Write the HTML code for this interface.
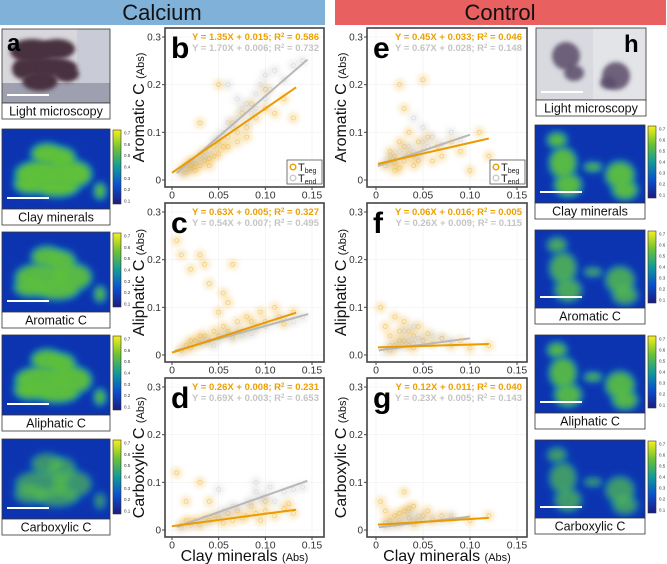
<!DOCTYPE html>
<html><head><meta charset="utf-8"><style>
html,body{margin:0;padding:0;background:#fff;}
svg{display:block;font-family:"Liberation Sans",Arial,sans-serif;}
</style></head><body>
<svg id="fig" width="667" height="564" viewBox="0 0 667 564" xmlns="http://www.w3.org/2000/svg">
<defs>
<filter id="blur3" x="-50%" y="-50%" width="200%" height="200%"><feGaussianBlur stdDeviation="3"/></filter>
<filter id="blur2" x="-50%" y="-50%" width="200%" height="200%"><feGaussianBlur stdDeviation="2"/></filter>
<linearGradient id="cbar" x1="0" y1="1" x2="0" y2="0">
<stop offset="0" stop-color="#1c1a7e"/><stop offset="0.25" stop-color="#0a4fd0"/><stop offset="0.5" stop-color="#129a9a"/><stop offset="0.75" stop-color="#6cc234"/><stop offset="1" stop-color="#f7ef1c"/>
</linearGradient>
</defs>
<rect x="0" y="0" width="325" height="25" fill="#80b1d9"/>
<text x="162" y="20" font-size="22" text-anchor="middle" fill="#111">Calcium</text>
<rect x="335" y="0" width="331" height="25" fill="#e8605f"/>
<text x="500" y="20" font-size="22" text-anchor="middle" fill="#111">Control</text>
<g id="charts"></g>
<g id="images"></g>
</svg>
<script>
// ---------- chart data ----------
const panelLetters = ['b','c','d','e','f','g'];
const yTitles = ['Aromatic C','Aliphatic C','Carboxylic C','Aromatic C','Aliphatic C','Carboxylic C'];
const xTicks = [0,0.05,0.10,0.15];
const xTickLabels = ['0','0.05','0.10','0.15'];
const yTicks = [0,0.1,0.2,0.3];
const yTickLabelsA = ['0','0.1','0.2','0.3'];
const yTickLabelsB = ['0.0','0.1','0.2','0.3'];
const begSlope = [1.35,0.63,0.26,0.45,0.06,0.12];
const begIntercept = [0.015,0.005,0.008,0.033,0.016,0.011];
const begR2 = ['0.586','0.327','0.231','0.046','0.005','0.040'];
const endSlope = [1.70,0.54,0.69,0.67,0.26,0.23];
const endIntercept = [0.006,0.007,0.003,0.028,0.009,0.005];
const endR2 = ['0.732','0.495','0.653','0.148','0.115','0.143'];
const begRange = [[0,0.133],[0,0.133],[0,0.133],[0.002,0.12],[0.002,0.12],[0.002,0.12]];
const endRange = [[0.005,0.145],[0.003,0.146],[0.005,0.145],[0.002,0.1],[0.003,0.1],[0.003,0.1]];
const ptsBegB = [[0.01,0.02],[0.015,0.03],[0.02,0.025],[0.02,0.04],[0.025,0.035],[0.03,0.05],[0.03,0.03],[0.035,0.06],[0.04,0.045],[0.045,0.07],[0.05,0.08],[0.05,0.055],[0.06,0.09],[0.065,0.12],[0.07,0.1],[0.075,0.14],[0.08,0.11],[0.085,0.16],[0.09,0.13],[0.1,0.15],[0.1,0.19],[0.11,0.14],[0.12,0.17],[0.13,0.13],[0.03,0.12],[0.05,0.2],[0.015,0.015],[0.025,0.02],[0.04,0.03],[0.06,0.07],[0.035,0.04],[0.045,0.05],[0.055,0.07],[0.07,0.08],[0.08,0.09],[0.02,0.03]];
const ptsEndB = [[0.01,0.015],[0.02,0.03],[0.025,0.04],[0.03,0.045],[0.04,0.06],[0.045,0.08],[0.05,0.09],[0.055,0.1],[0.06,0.12],[0.065,0.11],[0.07,0.13],[0.075,0.15],[0.08,0.16],[0.085,0.14],[0.09,0.18],[0.095,0.2],[0.1,0.17],[0.1,0.22],[0.105,0.19],[0.11,0.23],[0.12,0.21],[0.13,0.24],[0.14,0.25],[0.06,0.2],[0.015,0.02],[0.035,0.05],[0.08,0.12],[0.09,0.15],[0.07,0.17]];
const ptsBegC = [[0.005,0.24],[0.01,0.21],[0.02,0.18],[0.03,0.21],[0.035,0.19],[0.065,0.19],[0.04,0.15],[0.055,0.13],[0.01,0.01],[0.015,0.02],[0.02,0.015],[0.025,0.03],[0.03,0.025],[0.035,0.04],[0.04,0.03],[0.045,0.05],[0.05,0.04],[0.055,0.06],[0.06,0.05],[0.07,0.07],[0.075,0.05],[0.08,0.08],[0.09,0.06],[0.095,0.09],[0.1,0.07],[0.11,0.1],[0.115,0.08],[0.12,0.065],[0.13,0.09],[0.05,0.09],[0.06,0.11],[0.02,0.03],[0.03,0.04],[0.065,0.04],[0.085,0.07]];
const ptsEndC = [[0.01,0.01],[0.02,0.02],[0.03,0.025],[0.04,0.03],[0.05,0.035],[0.055,0.04],[0.06,0.045],[0.07,0.05],[0.075,0.04],[0.08,0.05],[0.09,0.055],[0.1,0.06],[0.11,0.07],[0.12,0.075],[0.13,0.07],[0.14,0.08],[0.035,0.03],[0.045,0.02],[0.065,0.035],[0.085,0.045]];
const ptsBegD = [[0.01,0.01],[0.02,0.015],[0.025,0.02],[0.03,0.01],[0.035,0.025],[0.04,0.02],[0.045,0.03],[0.05,0.025],[0.06,0.035],[0.065,0.02],[0.07,0.04],[0.08,0.03],[0.085,0.05],[0.09,0.035],[0.1,0.04],[0.11,0.03],[0.12,0.045],[0.13,0.035],[0.005,0.12],[0.03,0.1],[0.015,0.06],[0.04,0.06],[0.1,0.06],[0.125,0.055],[0.055,0.015],[0.075,0.025],[0.095,0.02],[0.015,0.02]];
const ptsEndD = [[0.01,0.005],[0.02,0.01],[0.03,0.015],[0.04,0.02],[0.05,0.03],[0.055,0.04],[0.06,0.035],[0.065,0.05],[0.07,0.045],[0.08,0.055],[0.085,0.06],[0.09,0.08],[0.095,0.065],[0.1,0.07],[0.105,0.09],[0.11,0.06],[0.12,0.08],[0.13,0.085],[0.14,0.09],[0.09,0.1],[0.05,0.085]];
const ptsBegE = [[0.01,0.03],[0.015,0.06],[0.02,0.02],[0.02,0.05],[0.025,0.08],[0.03,0.04],[0.03,0.07],[0.035,0.1],[0.04,0.05],[0.04,0.03],[0.045,0.08],[0.05,0.06],[0.055,0.09],[0.06,0.04],[0.065,0.07],[0.07,0.05],[0.08,0.08],[0.09,0.06],[0.11,0.1],[0.12,0.05],[0.1,0.02],[0.025,0.2],[0.05,0.21],[0.03,0.15],[0.015,0.04],[0.035,0.055],[0.02,0.035],[0.045,0.04],[0.025,0.025]];
const ptsEndE = [[0.01,0.035],[0.015,0.05],[0.02,0.04],[0.025,0.06],[0.03,0.05],[0.035,0.07],[0.04,0.06],[0.045,0.05],[0.05,0.08],[0.055,0.07],[0.06,0.09],[0.07,0.075],[0.08,0.1],[0.09,0.085],[0.04,0.13],[0.05,0.11]];
const ptsBegF = [[0.005,0.1],[0.01,0.06],[0.015,0.04],[0.02,0.08],[0.02,0.02],[0.025,0.05],[0.03,0.03],[0.03,0.07],[0.035,0.02],[0.04,0.04],[0.045,0.06],[0.05,0.03],[0.055,0.045],[0.06,0.025],[0.07,0.035],[0.08,0.02],[0.09,0.03],[0.1,0.015],[0.12,0.02],[0.015,0.01],[0.04,0.015],[0.025,0.03],[0.035,0.05]];
const ptsEndF = [[0.01,0.01],[0.015,0.02],[0.02,0.015],[0.025,0.025],[0.03,0.02],[0.035,0.03],[0.04,0.025],[0.045,0.035],[0.05,0.03],[0.06,0.04],[0.07,0.035],[0.08,0.03],[0.03,0.05],[0.04,0.06]];
const ptsBegG = [[0.005,0.06],[0.01,0.04],[0.015,0.02],[0.02,0.03],[0.025,0.015],[0.03,0.08],[0.03,0.04],[0.035,0.025],[0.04,0.05],[0.045,0.02],[0.05,0.03],[0.055,0.04],[0.06,0.02],[0.07,0.03],[0.08,0.025],[0.1,0.02],[0.12,0.03],[0.01,0.015],[0.04,0.012],[0.025,0.035],[0.035,0.045]];
const ptsEndG = [[0.01,0.008],[0.015,0.015],[0.02,0.01],[0.025,0.02],[0.03,0.015],[0.035,0.025],[0.04,0.02],[0.045,0.03],[0.05,0.02],[0.06,0.025],[0.07,0.02],[0.08,0.03],[0.035,0.04]];
const ptsBeg = [ptsBegB,ptsBegC,ptsBegD,ptsBegE,ptsBegF,ptsBegG];
const ptsEnd = [ptsEndB,ptsEndC,ptsEndD,ptsEndE,ptsEndF,ptsEndG];

const NS='http://www.w3.org/2000/svg';
function mk(tag,attrs,parent,txt){const e=document.createElementNS(NS,tag);for(const k in attrs)e.setAttribute(k,attrs[k]);if(txt!==undefined)e.textContent=txt;parent.appendChild(e);return e;}
const ORANGE='#eda000', GRAY='#bdbdbd';
const charts=document.getElementById('charts');
const tops=[28,203,378];
for(let i=0;i<6;i++){
  const right=i>=3;
  const L=right?367:165, R=right?527:324, T=tops[i%3], B=T+159;
  const x0=right?376:172, x15=right?517:312;
  const sx=v=>x0+(x15-x0)*v/0.15;
  const sy=v=>(T+152)-143*v/0.3;
  const g=mk('g',{},charts);
  
  
  mk('rect',{x:L,y:T,width:R-L,height:B-T,fill:'#fff'},g);
  xTicks.forEach(v=>mk('line',{x1:sx(v),x2:sx(v),y1:T,y2:B,stroke:'#f0f0f0','stroke-width':0.6},g));
  yTicks.forEach(v=>mk('line',{x1:L,x2:R,y1:sy(v),y2:sy(v),stroke:'#f0f0f0','stroke-width':0.6},g));
  const drawPts=(pts,col,nm)=>{pts.forEach(p=>{
    mk('circle',{cx:sx(p[0]),cy:sy(p[1]),r:6,fill:col,'fill-opacity':0.2,filter:'url(#blur2)'},g);
    const c=mk('circle',{cx:sx(p[0]),cy:sy(p[1]),r:2,fill:'none',stroke:col,'stroke-opacity':0.4,'stroke-width':0.8},g);
    
    
  });};
  drawPts(ptsBeg[i],ORANGE,'point-tbeg');
  drawPts(ptsEnd[i],GRAY,'point-tend');
  const le=mk('line',{x1:sx(endRange[i][0]),y1:sy(endSlope[i]*endRange[i][0]+endIntercept[i]),x2:sx(endRange[i][1]),y2:sy(endSlope[i]*endRange[i][1]+endIntercept[i]),stroke:'#b8b8b8','stroke-width':2},g);
  
  
  const lb=mk('line',{x1:sx(begRange[i][0]),y1:sy(begSlope[i]*begRange[i][0]+begIntercept[i]),x2:sx(begRange[i][1]),y2:sy(begSlope[i]*begRange[i][1]+begIntercept[i]),stroke:'#eb9a00','stroke-width':2},g);
  
  
  mk('rect',{x:L,y:T,width:R-L,height:B-T,fill:'none',stroke:'#444','stroke-width':1.6},g);
  xTicks.forEach((v,k)=>{mk('line',{x1:sx(v),x2:sx(v),y1:B,y2:B+3,stroke:'#444'},g);
    const t=mk('text',{x:sx(v),y:B+11.5,'font-size':10.5,'text-anchor':'middle',fill:'#333'},g,xTickLabels[k]);
    
    });
  const yl=(i==4)?yTickLabelsB:yTickLabelsA;
  yTicks.forEach((v,k)=>{mk('line',{x1:L-3,x2:L,y1:sy(v),y2:sy(v),stroke:'#444'},g);
    const t=mk('text',{x:L-4,y:sy(v)+3.5,'font-size':10,'text-anchor':'end',fill:'#333'},g,yl[k]);
    
    });
  const pl=mk('text',{x:L+6,y:T+30,'font-size':30,'font-weight':'bold',fill:'#000'},g,panelLetters[i]);
  
  
  const e1=mk('text',{x:R-5,y:T+12,'font-size':9.5,'font-weight':'bold','text-anchor':'end',fill:ORANGE},g);
  e1.innerHTML='Y = '+begSlope[i].toFixed(2)+'X + '+begIntercept[i].toFixed(3)+'; R<tspan font-size="6" dy="-3">2</tspan><tspan dy="3"> = '+begR2[i]+'</tspan>';
  
  
  const e2=mk('text',{x:R-5,y:T+23,'font-size':9.5,'font-weight':'bold','text-anchor':'end',fill:'#c4c4c4'},g);
  e2.innerHTML='Y = '+endSlope[i].toFixed(2)+'X + '+endIntercept[i].toFixed(3)+'; R<tspan font-size="6" dy="-3">2</tspan><tspan dy="3"> = '+endR2[i]+'</tspan>';
  
  
  const yt=mk('text',{transform:'translate('+(L-21)+','+((T+B)/2)+') rotate(-90)','font-size':16,'text-anchor':'middle',fill:'#111'},g);
  yt.innerHTML=yTitles[i]+' <tspan font-size="11">(Abs)</tspan>';
  
  
  if(i%3==2){const xt=mk('text',{x:(L+R)/2,y:B+24,'font-size':16,'text-anchor':'middle',fill:'#111'},g);
    xt.innerHTML='Clay minerals <tspan font-size="11">(Abs)</tspan>';
    
    }
  if(i%3==0){const lg=mk('g',{},g);
    
    
    mk('rect',{x:R-37,y:B-27,width:35,height:24,fill:'#fff',stroke:'#555','stroke-width':0.8},lg);
    mk('circle',{cx:R-31,cy:B-20,r:2.8,fill:'none',stroke:ORANGE,'stroke-width':1.5},lg);
    mk('circle',{cx:R-31,cy:B-9,r:2.8,fill:'none',stroke:'#ccc','stroke-width':1.5},lg);
    const a=mk('text',{x:R-26,y:B-16,'font-size':11,fill:'#222'},lg);a.innerHTML='T<tspan font-size="7" dy="2">beg</tspan>';
    const b=mk('text',{x:R-26,y:B-5,'font-size':11,fill:'#222'},lg);b.innerHTML='T<tspan font-size="7" dy="2">end</tspan>';}
}

// ---------- images ----------
const imgs=document.getElementById('images');
const leftBlobs=[[45,25,14,9],[60,30,12,10],[40,45,25,12],[70,45,18,12],[28,55,14,8],[55,58,20,8],[98,62,4,6]];
const rightBlobs=[[22,15,8,6],[28,38,12,14],[33,60,12,10],[85,50,13,12],[90,65,11,8],[58,42,7,3]];
const heatLabels=['Clay minerals','Aromatic C','Aliphatic C','Carboxylic C'];
const leftStrength=[1,0.9,0.95,0.55];
const rightStrength=[0.9,0.7,0.85,0.6];
function heat(x,y,w,h,blobs,s,label,nm){
  const g=mk('g',{},imgs);
  
  
  const cp='cp'+nm; const cl=mk('clipPath',{id:cp},g); mk('rect',{x:x,y:y,width:w,height:h},cl);
  const gg=mk('g',{'clip-path':'url(#'+cp+')'},g);
  mk('rect',{x:x,y:y,width:w,height:h,fill:'#0d34b0'},gg);
  blobs.forEach(b=>mk('ellipse',{cx:x+b[0],cy:y+b[1],rx:b[2]+4,ry:b[3]+4,fill:'#1a8fb0','fill-opacity':0.8*s,filter:'url(#blur3)'},gg));
  blobs.forEach(b=>mk('ellipse',{cx:x+b[0],cy:y+b[1],rx:b[2],ry:b[3],fill:'#5ec03a','fill-opacity':s,filter:'url(#blur3)'},gg));
  mk('line',{x1:x+5,x2:x+47,y1:y+h-11,y2:y+h-11,stroke:'#fff','stroke-width':2},gg);
  mk('rect',{x:x,y:y,width:w,height:h,fill:'none',stroke:'#333','stroke-width':0.8},g);
  mk('rect',{x:x,y:y+h,width:w,height:16,fill:'#fff',stroke:'#333','stroke-width':0.8},g);
  mk('text',{x:x+w/2,y:y+h+12.5,'font-size':12.5,'text-anchor':'middle',fill:'#111'},g,label);
  const cx=x+w+3;
  const cb=mk('rect',{x:cx,y:y+1,width:8,height:h-6,fill:'url(#cbar)',stroke:'#333','stroke-width':0.6},g);
  
  
  ['0.7','0.6','0.5','0.4','0.3','0.2','0.1'].forEach((t,k)=>mk('text',{x:cx+11,y:y+4+k*(h-12)/6+1.5,'font-size':4.5,fill:'#333'},g,t));
}
function micro(x,y,w,h,nm,right){
  const g=mk('g',{},imgs);
  
  
  const cp='cp'+nm; const cl=mk('clipPath',{id:cp},g); mk('rect',{x:x,y:y,width:w,height:h},cl);
  const gg=mk('g',{'clip-path':'url(#'+cp+')'},g);
  if(!right){
    mk('rect',{x:x,y:y,width:w,height:h,fill:'#d8d8dc'},gg);
    mk('rect',{x:x+75,y:y,width:w-75,height:h,fill:'#c9ccd6'},gg);
    mk('rect',{x:x,y:y+h-20,width:w,height:20,fill:'#9ea0b0'},gg);
    [[30,22,22,12],[55,20,18,10],[45,38,30,10],[38,52,18,10],[65,45,12,8],[20,40,10,10]].forEach(b=>mk('ellipse',{cx:x+b[0],cy:y+b[1],rx:b[2],ry:b[3],fill:'#4a3040',filter:'url(#blur2)'},gg));
    mk('text',{x:x+5,y:y+22,'font-size':24,'font-weight':'bold',fill:'#000'},gg,'a');
  }else{
    mk('rect',{x:x,y:y,width:w,height:h,fill:'#d9dae0'},gg);
    mk('rect',{x:x+57,y:y,width:w-57,height:h,fill:'#e2e4e8'},gg);
    [[30,28,14,14],[38,45,10,8],[80,48,14,14],[72,55,8,6]].forEach(b=>mk('ellipse',{cx:x+b[0],cy:y+b[1],rx:b[2],ry:b[3],fill:'#5a4a68','fill-opacity':0.85,filter:'url(#blur2)'},gg));
    mk('text',{x:x+w-22,y:y+24,'font-size':24,'font-weight':'bold',fill:'#000'},gg,'h');
  }
  mk('line',{x1:x+5,x2:x+47,y1:y+h-8,y2:y+h-8,stroke:'#fff','stroke-width':2},gg);
  mk('rect',{x:x,y:y,width:w,height:h,fill:'none',stroke:'#333','stroke-width':0.8},g);
  mk('rect',{x:x,y:y+h,width:w,height:16,fill:'#fff',stroke:'#333','stroke-width':0.8},g);
  mk('text',{x:x+w/2,y:y+h+12.5,'font-size':12.5,'text-anchor':'middle',fill:'#111'},g,'Light microscopy');
}
micro(2,29,108,74,'micro-calcium',false);
micro(536,28,110,72,'micro-control',true);
[129,232,335,439].forEach((yy,k)=>heat(2,yy,108,80,leftBlobs,leftStrength[k],heatLabels[k],'heatmap-calcium-'+k));
[125,230,335,440].forEach((yy,k)=>heat(535,yy,110,78,rightBlobs,rightStrength[k],heatLabels[k],'heatmap-control-'+k));
</script>
</body></html>
